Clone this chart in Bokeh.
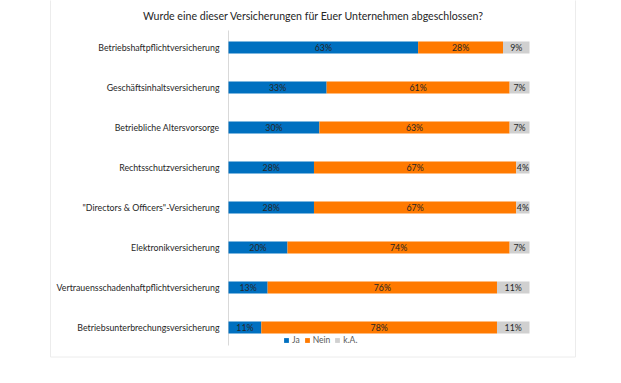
from bokeh.plotting import figure
from bokeh.models import Range1d, ColumnDataSource, Legend, LegendItem, Label
from bokeh.core.properties import value
from bokeh.embed import file_html
from bokeh.resources import INLINE

title = "Wurde eine dieser Versicherungen für Euer Unternehmen abgeschlossen?"
categories = [
    "Betriebshaftpflichtversicherung",
    "Geschäftsinhaltsversicherung",
    "Betriebliche Altersvorsorge",
    "Rechtsschutzversicherung",
    "\"Directors & Officers\"-Versicherung",
    "Elektronikversicherung",
    "Vertrauensschadenhaftpflichtversicherung",
    "Betriebsunterbrechungsversicherung",
]
ja = [63.0, 32.6, 30.2, 28.4, 28.4, 19.6, 13.0, 10.9]
nein = [28.2, 60.8, 63.2, 67.2, 67.2, 73.8, 76.2, 78.3]
ka = [8.8, 6.6, 6.6, 4.4, 4.4, 6.6, 10.8, 10.8]
series = ["Ja", "Nein", "k.A."]
colors = ["#0070C0", "#FF7A00", "#D0D0D0"]

FONT = "Lato"
W, H = 613, 375
PX = 3.01            # pixels per percent
X0 = 228             # pixel of 0 %
YPX = 40             # pixels per row
Y0 = 47              # pixel of first row centre

def xd(px):
    return (px - X0) / PX

def yd(py):
    return 1 + (py - Y0) / YPX

p = figure(width=W, height=H, output_backend="svg", toolbar_location=None,
           x_range=Range1d(xd(0), xd(W)), y_range=Range1d(yd(H), yd(0)),
           x_axis_location=None, y_axis_location=None, min_border=0)
p.grid.visible = False
p.outline_line_color = None
p.background_fill_color = "white"
p.border_fill_color = "white"

rows = list(range(1, len(categories) + 1))
src = ColumnDataSource(dict(y=rows, cat=categories, Ja=ja, Nein=nein))
src.data["k.A."] = ka

# frame lines
frame_col = "#ececec"
p.segment(x0=[xd(50), xd(575), xd(50)], y0=[yd(-20), yd(-20), yd(356.5)],
          x1=[xd(50), xd(575), xd(575)], y1=[yd(356.5), yd(356.5), yd(356.5)],
          line_color=frame_col, line_width=1)
# category axis line
p.segment(x0=[0], y0=[yd(30)], x1=[0], y1=[yd(345)], line_color="#d9d9d9", line_width=1)

rs = p.hbar_stack(series, y="y", height=0.3, color=colors, line_color=None, source=src)

# data labels
lx, ly, lt = [], [], []
for i, r in enumerate(rows):
    start = 0.0
    for vals in (ja, nein, ka):
        v = vals[i]
        lx.append(start + v / 2)
        ly.append(r)
        lt.append(f"{round(v)}%")
        start += v
p.text(x=lx, y=ly, text=lt, text_align="center", text_baseline="middle",
       text_font=value(FONT), text_font_size="8.8px", text_color="#262626")

# category labels
p.text(x=[xd(219)] * len(rows), y=rows, text=categories, text_align="right",
       text_baseline="middle", text_font=value(FONT), text_font_size="8.8px",
       text_color="#262626")

p.add_layout(Label(x=313, y=H - 15, x_units="screen", y_units="screen", text=title,
                   text_align="center", text_baseline="middle", text_font=FONT,
                   text_font_size="10.6px", text_color="#262626"))

legend = Legend(items=[LegendItem(label=s, renderers=[r]) for s, r in zip(series, rs)],
                orientation="horizontal", location=(283, H - 345), glyph_width=6, glyph_height=6,
                label_standoff=3, spacing=4, padding=0, margin=0,
                label_width=0, label_height=10,
                border_line_color=None, background_fill_alpha=0,
                label_text_font=FONT, label_text_font_size="8.5px", label_text_color="#595959")
p.add_layout(legend)

open("out.html", "w").write(file_html(p, INLINE))
